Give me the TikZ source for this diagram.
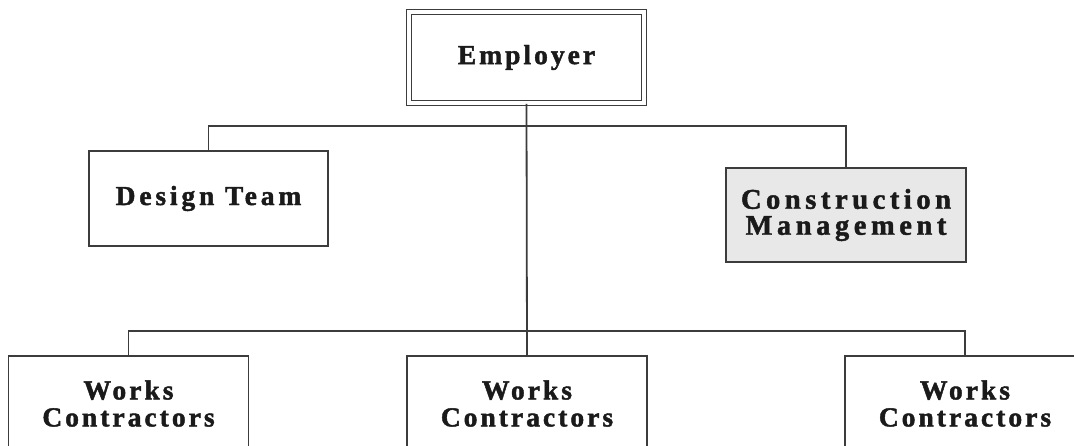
\documentclass[tikz,border=0pt]{standalone}
\usepackage{fontspec}
\newfontfamily\boxfont[Extension=.ttf, UprightFont=*-Bold, LetterSpace=11, FakeBold=1.6]{LiberationSerif}
\newfontfamily\midboxfont[Extension=.ttf, UprightFont=*-Bold, LetterSpace=14, FakeBold=1.6]{LiberationSerif}
\newfontfamily\wideboxfont[Extension=.ttf, UprightFont=*-Bold, LetterSpace=16, FakeBold=1.6]{LiberationSerif}
\definecolor{linegray}{HTML}{3C3C3C}
\definecolor{textblack}{HTML}{1A1A1A}
\definecolor{cmfill}{HTML}{E8E8E8}
\begin{document}
\begin{tikzpicture}[x=1pt,y=-1pt,
  orgbox/.style={draw=linegray, line width=1.8pt, fill=white,
    minimum width=239pt, minimum height=95pt, inner sep=0pt,
    align=center, text=textblack,
    font=\boxfont\fontsize{27.5}{27}\selectfont},
  midtext/.style={font=\midboxfont\fontsize{27.5}{27}\selectfont},
  widetext/.style={font=\wideboxfont\fontsize{28.5}{26}\selectfont},
  link/.style={draw=linegray, line width=1.8pt}]
  \useasboundingbox (0,0) rectangle (1074,445);
  \clip (0,0) rectangle (1074,445);
  \fill[white] (0,0) rectangle (1074,445);

  % top of the chart
  \node[orgbox, double=white, double distance=3.6pt, line width=1.5pt,
        minimum width=235pt, minimum height=91pt] (emp) at (526.5,57.5) {Employer};

  % second level
  \node[orgbox, midtext] (design) at (208.5,198.5) {Design Team};
  \node[orgbox, widetext, fill=cmfill, minimum width=240pt, minimum height=94pt] (cm) at (846,215) {Construction\\Management};

  % contractors
  \node[orgbox, minimum width=240pt] (wc1) at (128.5,403.5) {Works\\Contractors};
  \node[orgbox, minimum width=240pt] (wc2) at (527,403.5) {Works\\Contractors};
  \node[orgbox, minimum width=240pt] (wc3) at (965,403.5) {Works\\Contractors};

  % connectors
  \draw[link] (emp.south) -- (wc2.north);
  \draw[link] (design.north) -- ++(0,-24) -| (cm.north);
  \draw[link] (wc1.north) -- ++(0,-24) -| (wc3.north);
\end{tikzpicture}
\end{document}
